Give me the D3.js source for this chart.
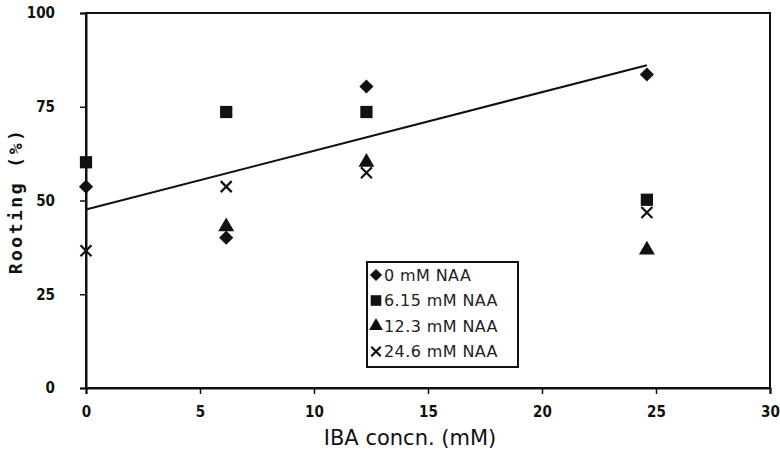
<!DOCTYPE html>
<html>
<head>
<meta charset="utf-8">
<script src="https://cdn.jsdelivr.net/npm/d3@7"></script>
<style>
  body { margin: 0; background: #fff; }
  .tick text { font-family: "DejaVu Sans Condensed", "DejaVu Sans"; font-weight: bold; font-size: 15px; fill: #111; }
</style>
</head>
<body>
<svg id="chart" width="780" height="460"></svg>
<script>
// IBA concentrations (x) and rooting % per NAA level
var iba = [0, 6.15, 12.3, 24.6]
var seriesNames = ["0 mM NAA", "6.15 mM NAA", "12.3 mM NAA", "24.6 mM NAA"]
var naa0   = [53.7, 40.1, 80.4, 83.6]
var naa615 = [60.2, 73.6, 73.6, 50.2]
var naa123 = [null, 43.0, 60.2, 36.8]
var naa246 = [36.6, 53.7, 57.4, 46.8]
var xTicks = [0, 5, 10, 15, 20, 25, 30]
var yTicks = [0, 25, 50, 75, 100]

var margin = {left: 86, right: 10, top: 13, bottom: 72}
var width = 780, height = 460

var svg = d3.select("#chart")

var x = d3.scaleLinear().domain([0, 30]).range([margin.left, width - margin.right])
var y = d3.scaleLinear().domain([0, 100]).range([height - margin.bottom, margin.top])

// frame (top and right edges)
svg.append("rect")
    .attr("x", x(0)).attr("y", y(100))
    .attr("width", x(30) - x(0)).attr("height", y(0) - y(100))
    .attr("fill", "none").attr("stroke", "#111").attr("stroke-width", 2)

var xAxis = svg.append("g")
    .attr("transform", "translate(0," + y(0) + ")")
    .call(d3.axisBottom(x).tickValues(xTicks).tickSize(6).tickPadding(12))
var yAxis = svg.append("g")
    .attr("transform", "translate(" + x(0) + ",0)")
    .call(d3.axisLeft(y).tickValues(yTicks).tickSize(6).tickPadding(25))
svg.selectAll(".domain").attr("stroke", "#111").attr("stroke-width", 2)
svg.selectAll(".tick line").attr("stroke", "#111").attr("stroke-width", 1.5)

// linear trend of the 0 mM NAA series
var mx = d3.mean(iba), my = d3.mean(naa0)
var sxy = d3.sum(iba, (d, i) => (d - mx) * (naa0[i] - my))
var sxx = d3.sum(iba, d => (d - mx) * (d - mx))
var slope = sxy / sxx, icpt = my - slope * mx
var trendX = [0, d3.max(iba)]
svg.append("path")
    .datum(trendX)
    .attr("fill", "none").attr("stroke", "#111").attr("stroke-width", 2)
    .attr("d", d3.line().x(d => x(d)).y(d => y(icpt + slope * d)))

// marker shapes
var shapes = [
    {type: d3.symbolSquare, size: 100, rotate: 45, fill: true},
    {type: d3.symbolSquare, size: 150, rotate: 0, fill: true},
    {type: d3.symbolTriangle, size: 110, rotate: 0, fill: true},
    {type: d3.symbolTimes, size: 80, rotate: 0, fill: false}
]
var allSeries = [naa0, naa615, naa123, naa246]

function drawMarker(g, k, scale) {
    var s = shapes[k]
    var p = g.append("path")
        .attr("d", d3.symbol().type(s.type).size(s.size * scale)())
    if (s.rotate) p.attr("transform", "rotate(" + s.rotate + ")")
    if (s.fill) p.attr("fill", "#111")
    else p.attr("fill", "none").attr("stroke", "#111").attr("stroke-width", 2.2)
}

allSeries.forEach(function(vals, k) {
    vals.forEach(function(v, i) {
        if (v == null) return
        var g = svg.append("g").attr("transform", "translate(" + x(iba[i]) + "," + y(v) + ")")
        drawMarker(g, k, 1)
    })
})

// legend
var leg = svg.append("g").attr("transform", "translate(367,262)")
leg.append("rect")
    .attr("width", 151).attr("height", 105)
    .attr("fill", "#fff").attr("stroke", "#111").attr("stroke-width", 2)
seriesNames.forEach(function(name, k) {
    var row = leg.append("g").attr("transform", "translate(0," + (13 + k * 25.5) + ")")
    drawMarker(row.append("g").attr("transform", "translate(9,0)"), k, 0.75)
    row.append("text")
        .attr("x", 17).attr("y", 0).attr("dy", "0.36em")
        .attr("font-family", "DejaVu Sans").attr("font-size", 16)
        .attr("letter-spacing", 0.4)
        .attr("fill", "#222")
        .text(name)
})

// axis titles
svg.append("text")
    .attr("x", 410).attr("y", 445)
    .attr("text-anchor", "middle")
    .attr("font-family", "DejaVu Sans").attr("font-size", 21)
    .attr("fill", "#111")
    .text("IBA concn. (mM)")
svg.append("text")
    .attr("transform", "translate(22,201) rotate(-90)")
    .attr("text-anchor", "middle")
    .attr("font-family", "DejaVu Sans Mono").attr("font-weight", "bold").attr("font-size", 18)
    .attr("letter-spacing", 2.5)
    .attr("fill", "#111")
    .text("Rooting (%)")
</script>
</body>
</html>
